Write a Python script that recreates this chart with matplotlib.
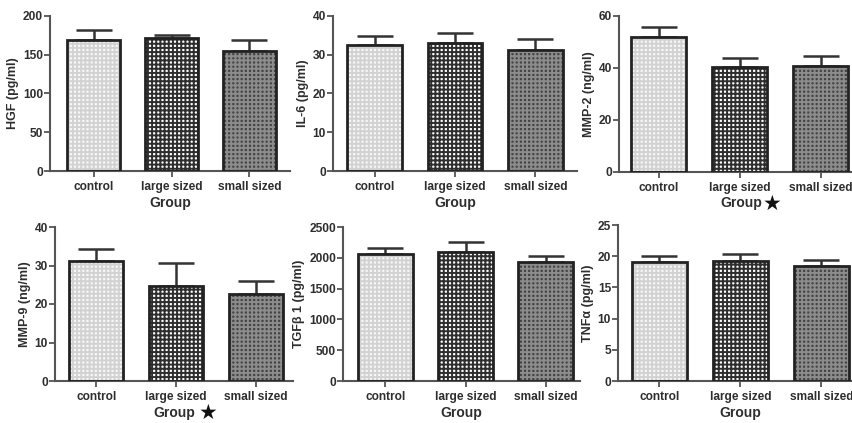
import numpy as np
import matplotlib.pyplot as plt

plt.rcParams['font.family'] = ['Liberation Sans', 'DejaVu Sans']
plt.rcParams['font.weight'] = 'bold'
plt.rcParams['hatch.linewidth'] = 1.4

groups = ['control', 'large sized', 'small sized']

hgf = [169, 171, 155]
hgf_err = [13, 4, 14]
il6 = [32.5, 33.0, 31.2]
il6_err = [2.3, 2.7, 2.8]
mmp2 = [52.0, 40.3, 40.6]
mmp2_err = [3.7, 3.7, 4.2]
mmp9 = [31.2, 24.6, 22.5]
mmp9_err = [3.1, 6.1, 3.5]
tgf = [2060, 2090, 1930]
tgf_err = [100, 160, 100]
tnf = [19.1, 19.2, 18.5]
tnf_err = [1.0, 1.2, 0.9]

# face colour, hatch, hatch colour per group
styles = [('#f8f8f8', '++++', '#d2d2d2'),
          ('#ffffff', '++++', '#2e2e2e'),
          ('#444444', '++++', '#8c8c8c')]

panels = [
    # (values, errors, ylabel, ymax, ystep, star gap, rect px (left, top, right, bottom), xlim)
    (hgf, hgf_err, 'HGF (pg/ml)', 200, 50, None, (50, 16, 290, 171), (-0.56, 2.52)),
    (il6, il6_err, 'IL-6 (pg/ml)', 40, 10, None, (333, 16, 577, 171), (-0.52, 2.52)),
    (mmp2, mmp2_err, 'MMP-2 (ng/ml)', 60, 20, 0.5, (619, 16, 863, 172), (-0.49, 2.52)),
    (mmp9, mmp9_err, 'MMP-9 (ng/ml)', 40, 10, 3, (55, 227, 293, 381), (-0.52, 2.47)),
    (tgf, tgf_err, 'TGF\u03b2 1 (pg/ml)', 2500, 500, None, (343, 227, 580, 381), (-0.53, 2.43)),
    (tnf, tnf_err, 'TNF\u03b1 (pg/ml)', 25, 5, None, (618, 225, 862, 381), (-0.51, 2.5)),
]

W, H = 853, 423
fig = plt.figure(figsize=(W / 100, H / 100), dpi=100)
x = np.arange(len(groups))
txt = '#2e2e2e'

for vals, errs, ylab, ymax, ystep, star, (l, t, r, b), xlim in panels:
    ax = fig.add_axes([l / W, 1 - b / H, (r - l) / W, (b - t) / H])
    for i in range(len(groups)):
        fc, hatch, hc = styles[i]
        ax.bar(x[i], vals[i], width=0.68, color=fc, hatch=hatch, edgecolor=hc,
               linewidth=0, zorder=2)
        ax.bar(x[i], vals[i], width=0.68, fill=False, edgecolor='#222222',
               linewidth=2, zorder=3)
    ax.errorbar(x, vals, yerr=[np.zeros(len(vals)), errs], fmt='none',
                ecolor='#333333', elinewidth=1.8, capsize=13, capthick=1.8, zorder=1)
    ax.set_xlim(*xlim)
    ax.set_ylim(0, ymax)
    ax.set_yticks(np.arange(0, ymax + 1, ystep))
    ax.set_xticks(x)
    ax.set_xticklabels(groups, fontsize=8.6, color=txt, fontweight='bold')
    ax.tick_params(axis='y', labelsize=8.6, labelcolor=txt, length=4,
                   width=1.3, color='#555555', pad=1)
    for lab in ax.get_yticklabels():
        lab.set_fontweight('bold')
    ax.tick_params(axis='x', length=4, width=1.3, color='#555555', pad=3)
    ax.set_ylabel(ylab, fontsize=9, fontweight='bold', color=txt, labelpad=3)
    ax.set_xlabel('Group', fontsize=10, fontweight='bold', color=txt, labelpad=2)
    if star is not None:
        ax.annotate('\u2605', xy=(1, 0.45), xycoords=ax.xaxis.label,
                    xytext=(star, 0), textcoords='offset points',
                    ha='left', va='center', fontsize=15, color='#111111',
                    family='DejaVu Sans')
    for s in ['top', 'right']:
        ax.spines[s].set_visible(False)
    for s in ['left', 'bottom']:
        ax.spines[s].set_linewidth(1.5)
        ax.spines[s].set_color('#555555')
    ax.patch.set_alpha(0)

fig.savefig('out.png', dpi=100)
